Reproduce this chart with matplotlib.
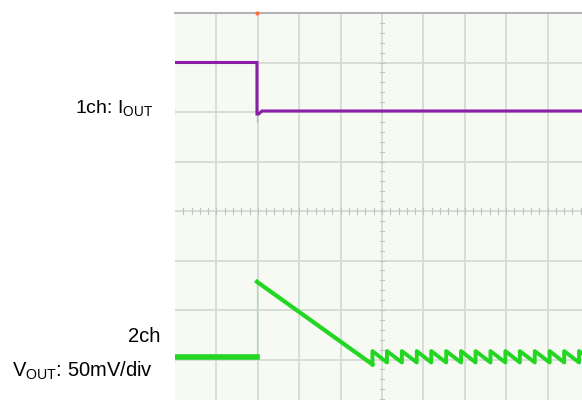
import matplotlib
matplotlib.use('Agg')
import matplotlib.pyplot as plt

plt.rcParams['font.family'] = ['Liberation Sans', 'DejaVu Sans']
plt.rcParams['mathtext.fontset'] = 'custom'
plt.rcParams['mathtext.rm'] = 'Liberation Sans'
plt.rcParams['mathtext.it'] = 'Liberation Sans'

# Данные в делениях осциллографа (10 дел. по горизонтали, 8 по вертикали)
trigger_t = 1.98

# 1ch: I_OUT
ch1_t = [0.0, 1.98, 1.98, 2.02, 2.10, 2.30, 10.0]
ch1_v = [3.00, 3.00, 1.96, 1.96, 2.02, 2.02, 2.02]

# 2ch: V_OUT (ступенька и спад)
ch2_t = [0.0, 1.98, 1.98, 4.77]
ch2_v = [-2.95, -2.95, -1.43, -3.10]

# пилообразные пульсации после спада
tooth_t = [4.77, 5.12, 5.48, 5.84, 6.19, 6.55, 6.91, 7.26, 7.62, 7.98,
           8.33, 8.69, 9.05, 9.40, 9.76, 10.12]
tooth_peak = -2.83
tooth_trough = -3.06

fig = plt.figure(figsize=(5.82, 4.0), dpi=100)
ax = fig.add_axes([175 / 582, (400 - 409) / 400, 414 / 582, 396 / 400])
ax.set_facecolor('#f6faf3')
ax.set_xlim(0, 10)
ax.set_ylim(-4, 4)

# сетка
for x in range(1, 10):
    ax.axvline(x, color='#d6dad5', lw=1.3, zorder=1)
for y in range(-3, 4):
    ax.axhline(y, color='#d6dad5', lw=1.3, zorder=1)
for s in ['left', 'right', 'bottom']:
    ax.spines[s].set_visible(False)
ax.spines['top'].set_color('#b4b4b4')
ax.spines['top'].set_linewidth(1.5)

# мелкие метки на центральных осях
for i in range(1, 50):
    x = i * 0.2
    ax.plot([x, x], [-0.06, 0.06], color='#c0c4c0', lw=0.8, zorder=1)
for i in range(-19, 20):
    y = i * 0.2
    ax.plot([5 - 0.06, 5 + 0.06], [y, y], color='#c0c4c0', lw=0.8, zorder=1)

ax.set_xticks([])
ax.set_yticks([])

# канал 1
ax.plot([trigger_t, trigger_t], [3.0, 1.80], color='#c9a6d3', lw=0.9, zorder=2)
ax.plot(ch1_t, ch1_v, color='#8a1fa8', lw=2.2, zorder=3, solid_joinstyle='miter')

# канал 2
ax.plot([trigger_t, trigger_t], [-2.95, -1.43], color='#9fe39f', lw=0.9, zorder=2)
ax.plot(ch2_t[:2], ch2_v[:2], color='#22d622', lw=4.0, zorder=3)
ax.plot(ch2_t[2:], ch2_v[2:], color='#22d622', lw=3.0, zorder=3)
saw_t = []
saw_v = []
for i in range(len(tooth_t) - 1):
    saw_t += [tooth_t[i], tooth_t[i], tooth_t[i + 1]]
    saw_v += [tooth_trough if i > 0 else ch2_v[-1], tooth_peak, tooth_trough]
ax.plot(saw_t, saw_v, color='#22d622', lw=2.8, zorder=3)

# метка триггера
ax.plot([trigger_t], [4.0], marker='o', ms=3, color='#ff6a3a',
        mec='none', clip_on=False, zorder=5)

# подписи каналов
fig.text(153 / 582, 1 - 113 / 400, r'1ch: I$_{\mathrm{OUT}}$', ha='right',
         va='baseline', fontsize=14)
fig.text(160 / 582, 1 - 342 / 400, '2ch', ha='right', va='baseline', fontsize=14.5)
fig.text(153 / 582, 1 - 377 / 400, r'V$_{\mathrm{OUT}}$: 50mV/div', ha='right',
         va='baseline', fontsize=14.5)

fig.savefig('out.png', dpi=100)
